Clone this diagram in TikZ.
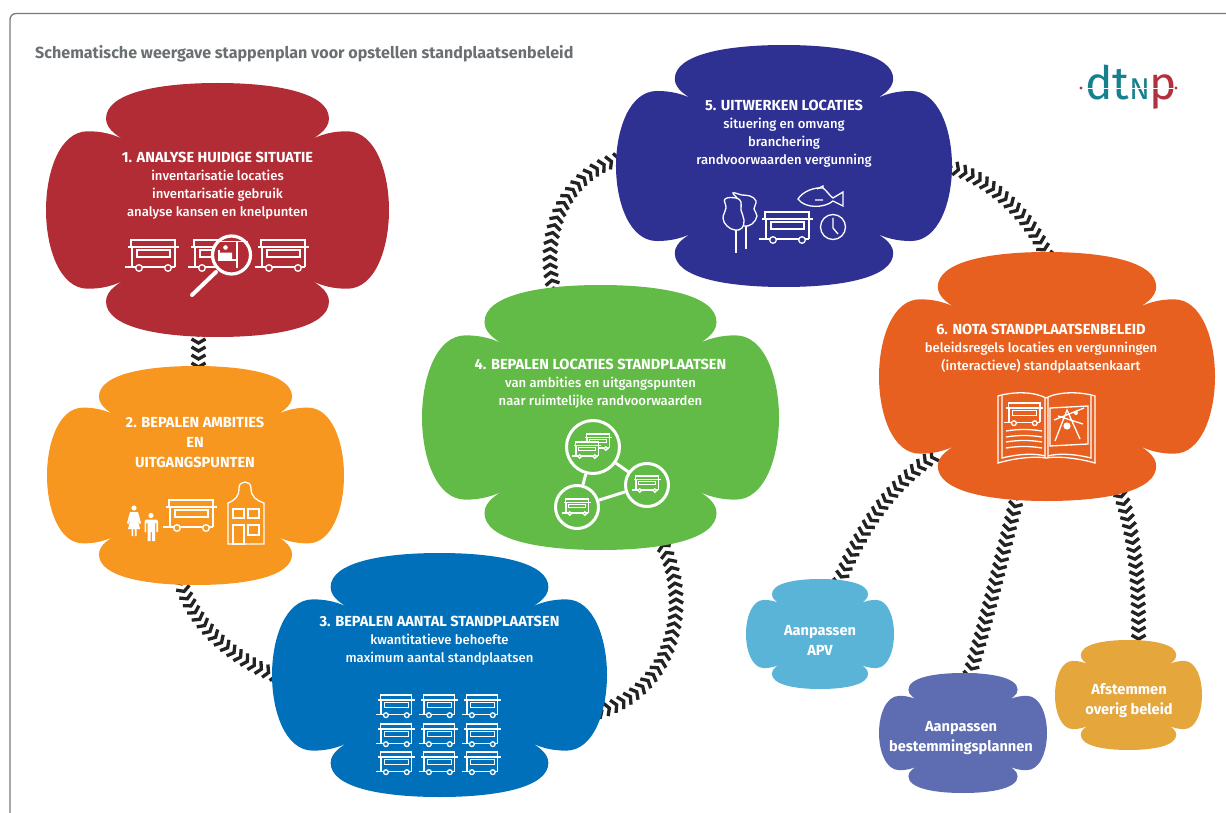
\documentclass[tikz,border=0pt]{standalone}
\usepackage{fontspec}
\setmainfont{Fira Sans}
\newfontface\fsmedium{Fira Sans Medium}
\usetikzlibrary{decorations.markings,calc}
\pgfdeclarelayer{back}
\pgfsetlayers{back,main}
\definecolor{cA}{HTML}{B22C35}
\definecolor{cB}{HTML}{F8971F}
\definecolor{cC}{HTML}{0070BA}
\definecolor{cD}{HTML}{62BB46}
\definecolor{cE}{HTML}{2E3192}
\definecolor{cF}{HTML}{E86020}
\definecolor{cG}{HTML}{5AB4D8}
\definecolor{cH}{HTML}{5E6CB2}
\definecolor{cI}{HTML}{E5A63C}
\definecolor{titlegrey}{HTML}{6A6F72}
\definecolor{framegrey}{HTML}{7A7A7A}
\definecolor{chainblack}{HTML}{232323}
\definecolor{logoteal}{HTML}{17808F}
\definecolor{logored}{HTML}{B5303F}
\tikzset{
  blobnode/.style={inner sep=0pt,outer sep=0pt,draw=none,rectangle},
  steptext/.style={text=white,align=center,inner sep=0pt,font=\fontsize{13.1}{18}\fsmedium},
  sidetext/.style={text=white,align=center,inner sep=0pt,font=\fontsize{14.6}{20}\selectfont\bfseries},
  iconline/.style={draw=white,line width=1.3pt},
  chain/.style={decorate,decoration={markings,mark=between positions 2pt and 1 step 8pt with {
      \draw[chainblack,line width=3.3pt,miter limit=6] (-2,-7) -- (2,0) -- (-2,7);}}},
  stall/.pic={
    \draw[iconline] (3,7) -- (3,0) -- (47,0) -- (47,7);
    \draw[iconline,line width=1.6pt] (0,7) -- (51,7);
    \draw[iconline] (4,7) -- (4,27) (47,7) -- (47,27) (-3,27) -- (47,27);
    \draw[iconline] (9,10) rectangle (42,17);
    \draw[iconline,fill=#1] (11,28) circle[radius=3.3];
    \draw[iconline,fill=#1] (40,28) circle[radius=3.3];
  },
}
\newcommand\blob[6]{%
  \fill[#6,shift={(#2,#3)},x=#4pt,y=-#5pt]
    (0,-1) .. controls (-.35,-1) and (-.65,-.92) .. (-.65,-.72)
    .. controls (-.65,-.63) and (-.57,-.57) .. (-.52,-.535)
    .. controls (-.6,-.6) and (-.68,-.62) .. (-.756,-.62)
    .. controls (-.92,-.62) and (-1,-.3) .. (-1,0)
    .. controls (-1,.3) and (-.92,.62) .. (-.756,.62)
    .. controls (-.68,.62) and (-.6,.6) .. (-.52,.535)
    .. controls (-.57,.57) and (-.65,.63) .. (-.65,.72)
    .. controls (-.65,.92) and (-.35,1) .. (0,1)
    .. controls (.35,1) and (.65,.92) .. (.65,.72)
    .. controls (.65,.63) and (.57,.57) .. (.52,.535)
    .. controls (.6,.6) and (.68,.62) .. (.756,.62)
    .. controls (.92,.62) and (1,.3) .. (1,0)
    .. controls (1,-.3) and (.92,-.62) .. (.756,-.62)
    .. controls (.68,-.62) and (.6,-.6) .. (.52,-.535)
    .. controls (.57,-.57) and (.65,-.63) .. (.65,-.72)
    .. controls (.65,-.92) and (.35,-1) .. (0,-1) -- cycle;
  \node[blobnode,minimum width=2*#4 pt,minimum height=2*#5 pt] (#1) at (#2,#3) {};
}
\newcommand\hd[1]{{\normalfont\fontsize{14.6}{18}\selectfont\bfseries #1}}
\begin{document}
\begin{tikzpicture}[x=1pt,y=-1pt]
\useasboundingbox (0,0) rectangle (1226,813);
% frame
\draw[framegrey,line width=1.3pt,rounded corners=6pt] (10,820) -- (10,13.5) -- (1232,13.5);
% title
\node[anchor=west,inner sep=0pt,text=titlegrey,font=\fontsize{16.1}{18}\selectfont\bfseries] (title) at (35,54) {Schematische weergave stappenplan voor opstellen standplaatsenbeleid};
% logo
\node[anchor=base west,inner sep=0pt,font=\fontsize{46}{46}\selectfont] (logo) at (1085,100) {\textcolor{logoteal}{dt{\fontsize{30}{30}\selectfont N}}\textcolor{logored}{p}};
\draw[white,line width=.8pt] (1084,88) -- (1176,88);
\fill[logored] (1081,88) circle[radius=1.7] (1176,88) circle[radius=1.7];
% blobs
\blob{s1}{217.5}{210}{171.5}{127}{cA}
\blob{s2}{195.5}{475.5}{148.5}{109.5}{cB}
\blob{s3}{439.5}{675}{167.5}{122}{cC}
\blob{s4}{600.5}{417.5}{178.5}{132.5}{cD}
\blob{s5}{784}{166}{168}{121}{cE}
\blob{s6}{1047}{376.5}{168}{124.5}{cF}
\blob{s7}{820}{634}{74}{55}{cG}
\blob{s8}{963}{733}{84}{60}{cH}
\blob{s9}{1128.5}{695}{73.5}{55}{cI}
% texts
\node[steptext] (t1) at (217.5,185.5) {\hd{1. ANALYSE HUIDIGE SITUATIE}\\inventarisatie locaties\\inventarisatie gebruik\\analyse kansen en knelpunten};
\node[sidetext] (t2) at (195,442.5) {2. BEPALEN AMBITIES\\EN\\UITGANGSPUNTEN};
\node[steptext] (t3) at (439.5,641) {\hd{3. BEPALEN AANTAL STANDPLAATSEN}\\kwantitatieve behoefte\\maximum aantal standplaatsen};
\node[steptext] (t4) at (600.5,384) {\hd{4. BEPALEN LOCATIES STANDPLAATSEN}\\van ambities en uitgangspunten\\naar ruimtelijke randvoorwaarden};
\node[steptext] (t5) at (784,134) {\hd{5. UITWERKEN LOCATIES}\\situering en omvang\\branchering\\randvoorwaarden vergunning};
\node[steptext] (t6) at (1041,349) {\hd{6. NOTA STANDPLAATSENBELEID}\\beleidsregels locaties en vergunningen\\(interactieve) standplaatsenkaart};
\node[sidetext] (t7) at (820,640.5) {Aanpassen\\APV};
\node[sidetext] (t8) at (961,738.5) {Aanpassen\\bestemmingsplannen};
\node[sidetext] (t9) at (1129,700.5) {Afstemmen\\overig beleid};
% connectors
\begin{pgfonlayer}{back}
\path[chain] ([xshift=-19pt,yshift=6pt]s1.south) -- ([xshift=3pt,yshift=-6pt]s2.north);
\path[chain] ([xshift=-15pt,yshift=5pt]s2.south) .. controls (192,625) and (235,660) .. ([xshift=5pt,yshift=-1pt]s3.west);
\path[chain] ([xshift=-9pt,yshift=-37pt]s3.east) .. controls (675,690) and (692,600) .. ([xshift=62pt,yshift=5pt]s4.south);
\path[chain] ([xshift=-46pt,yshift=-7pt]s4.north) .. controls (540,240) and (560,175) .. ([xshift=6pt,yshift=8pt]s5.west);
\path[chain] ([xshift=-5pt]s5.east) .. controls (990,178) and (1030,215) .. ([xshift=1pt,yshift=-6pt]s6.north);
\path[chain] ([xshift=-112pt,yshift=46pt]s6.south) .. controls (890,485) and (860,530) .. ([xshift=18pt,yshift=-6pt]s7.north);
\path[chain] ([xshift=-29pt,yshift=6pt]s6.south) .. controls (1003,550) and (990,610) .. ([xshift=5pt,yshift=-7pt]s8.north);
\path[chain] ([xshift=73pt,yshift=8pt]s6.south) .. controls (1137,540) and (1139,590) .. ([xshift=10pt,yshift=-6pt]s9.north);
\end{pgfonlayer}
% icons 1
\pic at (128,240) {stall=cA};
\pic at (191,240) {stall=cA};
\pic at (258,240) {stall=cA};
\draw[white,line width=4pt,line cap=round] (216,272) -- (192,295);
\draw[white,line width=3.2pt,fill=cA] (231.5,255) circle[radius=19];
\draw[iconline] (216,241.5) -- (248,241.5) (237,241.5) -- (237,268);
\draw[iconline] (219,250) -- (219,260) -- (237,260);
\fill[white] (225.5,247.5) circle[radius=2.3] (220,259) -- (220,252.5) -- (232,252.5) -- (232,259) -- cycle;
% icons 2
\fill[white] (134,508) circle[radius=2.6] (151,515.5) circle[radius=2.6];
\fill[white] (130,512) -- (138,512) -- (141,523) -- (139.5,524) -- (137,517) -- (140,529) -- (136.5,529) -- (136.5,536) -- (134.8,536) -- (134.8,529) -- (133.2,529) -- (133.2,536) -- (131.5,536) -- (131.5,529) -- (128,529) -- (131,517) -- (128.5,524) -- (127,523) -- cycle;
\fill[white] (146,519.5) -- (156.5,519.5) -- (158,521) -- (158,532) -- (156.3,532) -- (156.3,523) -- (155,523) -- (155,541) -- (152,541) -- (152,532) -- (150.5,532) -- (150.5,541) -- (147.5,541) -- (147.5,523) -- (146.2,523) -- (146.2,532) -- (144.5,532) -- (144.5,521) -- cycle;
\pic at (166,500) {stall=cB};
\draw[iconline] (228,544) -- (228,503) .. controls (235,500) and (239,497) .. (239,488) .. controls (239,480) and (251,480) .. (251,488) .. controls (251,497) and (256,500) .. (264,503) -- (264,544) -- cycle;
\draw[iconline] (233,509) rectangle (244,518) (248,509) rectangle (259,518) (233,525) rectangle (244,544) (248,525) rectangle (259,535);
% icons 3
\foreach \xx in {378,421,464} \foreach \yy in {695,724,752}
  \pic[scale=.72] at (\xx,\yy) {stall=cC};
% icons 4
\node[circle,draw=white,line width=3pt,minimum size=53pt,inner sep=0pt] (c1) at (593,447) {};
\node[circle,draw=white,line width=3pt,minimum size=43pt,inner sep=0pt] (c2) at (647,485) {};
\node[circle,draw=white,line width=3pt,minimum size=43pt,inner sep=0pt] (c3) at (577,507) {};
\draw[white,line width=3pt] (c1) -- (c2) (c1) -- (c3) (c2) -- (c3);
\pic[scale=.52] at (585,434) {stall=cD};
\fill[cD] (572,441) rectangle (599,456);
\pic[scale=.52] at (574,442) {stall=cD};
\pic[scale=.52] at (634,476) {stall=cD};
\pic[scale=.52] at (564,499) {stall=cD};
% icons 5
\draw[iconline] plot[smooth cycle,tension=.7] coordinates {(733,193) (742,195) (750,196) (756,201) (754,209) (757,216) (752,224) (744,226) (738,222) (737,210) (738,200)};
\fill[cE] plot[smooth cycle,tension=.7] coordinates {(725,199) (736,198) (741,202) (741,210) (744,220) (742,228) (735,230) (727,226) (723,218) (726,208)};
\draw[iconline] plot[smooth cycle,tension=.7] coordinates {(725,199) (736,198) (741,202) (741,210) (744,220) (742,228) (735,230) (727,226) (723,218) (726,208)};
\draw[iconline] (736,230) -- (736,253) (746,226) -- (746,249);
\pic at (762,212) {stall=cE};
\draw[iconline] (798,199) .. controls (803,191) and (815,187) .. (823,188) .. controls (826,190) and (830,196) .. (833,198) -- (843,192) -- (843,206) -- (833,201) .. controls (825,208) and (805,209) .. (798,199) -- cycle;
\draw[iconline] (817,189) -- (823,186) -- (823,188) (815,200) -- (823,200);
\draw[iconline] (833,227) circle[radius=12.5];
\draw[iconline] (833,218) -- (833,228) -- (838,234);
% icons 6
\draw[iconline] (998,396) .. controls (1015,391) and (1035,392) .. (1046,398) .. controls (1057,392) and (1078,391) .. (1095,396) -- (1095,463) .. controls (1078,458) and (1057,456) .. (1046,458) .. controls (1035,456) and (1015,458) .. (998,463) -- cycle;
\draw[iconline] (1002,396) -- (1002,458) .. controls (1018,454) and (1035,453) .. (1045,456) (1091,396) -- (1091,458) .. controls (1075,454) and (1058,453) .. (1048,456) (1045,398) -- (1045,458) (1048,398) -- (1048,458);
\pic[scale=.72] at (1006,403) {stall=cF};
\draw[iconline] (1006,431) .. controls (1018,429) and (1030,429) .. (1042,431) (1006,437) .. controls (1018,435) and (1030,435) .. (1042,437) (1006,442) .. controls (1018,440) and (1030,440) .. (1042,442) (1006,448) .. controls (1018,446) and (1030,446) .. (1042,448);
\draw[iconline] (1050,408) -- (1088,406) -- (1088,444) -- (1050,446) -- cycle;
\draw[iconline] (1055,441) -- (1067,410) -- (1080,439) (1054,420) -- (1084,408) (1058,416) -- (1083,424);
\fill[white] (1067,426) circle[radius=3.6];
\fill[white] (1076,413) circle[radius=2];
\end{tikzpicture}
\end{document}
